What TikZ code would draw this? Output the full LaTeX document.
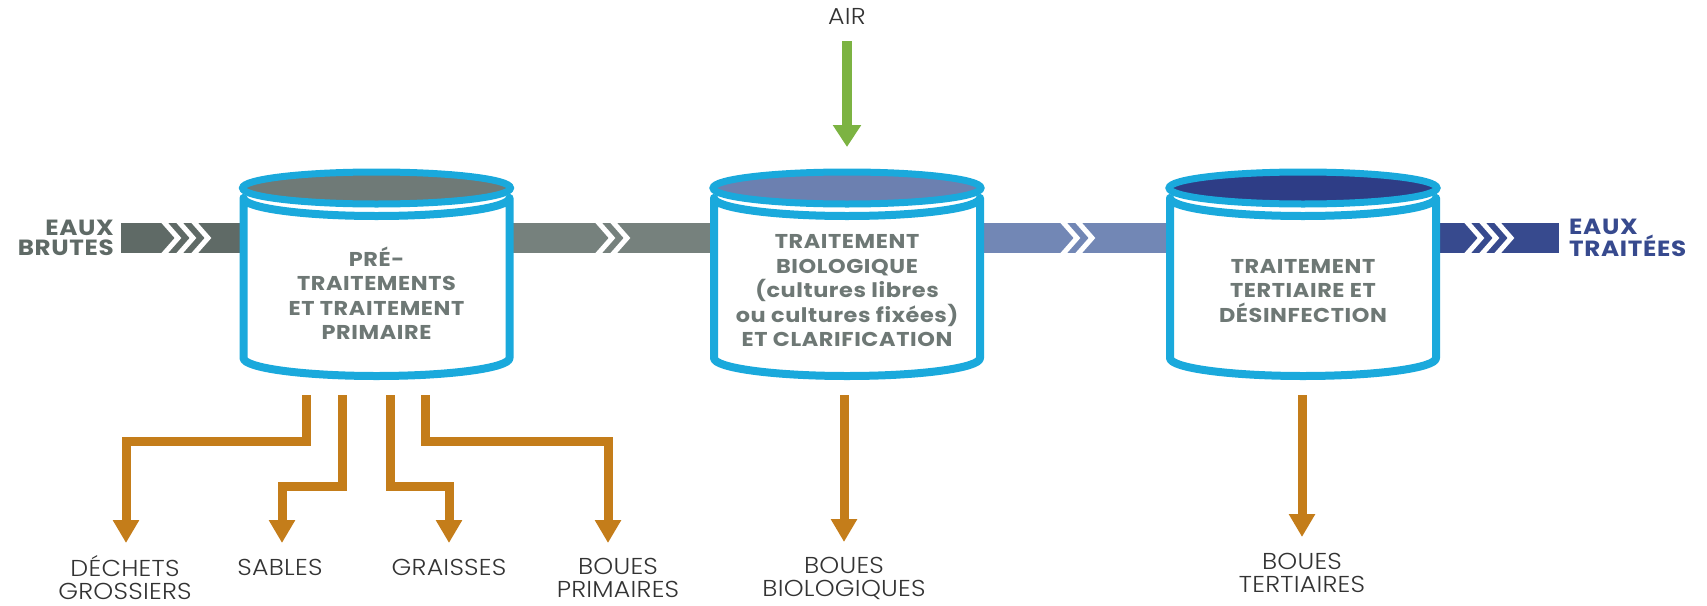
\documentclass[tikz,border=0pt]{standalone}
\usepackage{fontspec}
\setmainfont{Poppins}
\newfontfamily\widefont[FakeStretch=1.12, LetterSpace=3]{Poppins}
\newfontfamily\thinfont[FakeStretch=1.1, LetterSpace=1, UprightFont={* Light}]{Poppins}
\usetikzlibrary{arrows.meta}
\definecolor{bandA}{HTML}{5F6A66}
\definecolor{bandB}{HTML}{76817D}
\definecolor{bandC}{HTML}{7287B5}
\definecolor{bandD}{HTML}{374A8E}
\definecolor{tankone}{HTML}{6F7A77}
\definecolor{tanktwo}{HTML}{6C80B0}
\definecolor{tankthree}{HTML}{2E3D86}
\definecolor{tankcyan}{HTML}{1AA9DC}
\definecolor{tanktext}{HTML}{6E7875}
\definecolor{sludge}{HTML}{C47D1A}
\definecolor{airgreen}{HTML}{7CB342}
\definecolor{labeltext}{HTML}{333333}
\newcommand\drawtank[2]{%
  \draw[tankcyan, line width=8, fill=white, line join=round]
    (#1-133,198) arc[start angle=180, end angle=0, x radius=133, y radius=18]
    -- (#1+133,358) arc[start angle=0, end angle=180, x radius=133, y radius=18] -- cycle;
  \draw[tankcyan, line width=7, fill=#2] (#1,188) ellipse [x radius=134, y radius=16];
}
\newcommand\chev[1]{%
  \draw[white, line width=5] (#1,221) -- (#1+15,238) -- (#1,255);
}
\begin{document}
\begin{tikzpicture}[x=1pt, y=-1pt,
  tanklabel/.style={text=tanktext, align=center, inner sep=0pt,
    font=\widefont\fontsize{20}{24.5}\selectfont\bfseries},
  endlabel/.style={inner sep=0pt, font=\widefont\fontsize{22}{20}\selectfont\bfseries},
  outlabel/.style={text=labeltext, align=center, inner sep=0pt,
    font=\thinfont\fontsize{23}{23}\selectfont},
  sludgearrow/.style={sludge, line width=9, line join=miter,
    -{Triangle[width=25pt, length=23pt]}},
  airarrow/.style={airgreen, line width=10,
    -{Triangle[width=27pt, length=22pt]}}]
\useasboundingbox (0,0) rectangle (1707,605);
% bands
\fill[bandA] (121,223) rectangle (376,253);
\fill[bandB] (376,223) rectangle (847,253);
\fill[bandC] (847,223) rectangle (1303,253);
\fill[bandD] (1303,223) rectangle (1559,253);
\chev{163}\chev{178}\chev{193}
\chev{597}\chev{612}
\chev{1062}\chev{1077}
\chev{1466}\chev{1481}\chev{1496}
% tanks
\drawtank{376.5}{tankone}
\drawtank{847}{tanktwo}
\drawtank{1303}{tankthree}
\node[tanklabel] (t1) at (376.5,293) {PRÉ-\\TRAITEMENTS\\ET TRAITEMENT\\PRIMAIRE};
\node[tanklabel] (t2) at (847,291) {TRAITEMENT\\BIOLOGIQUE\\(cultures libres\\ou cultures fixées)\\ET CLARIFICATION};
\node[tanklabel] (t3) at (1303,291) {TRAITEMENT\\TERTIAIRE ET\\DÉSINFECTION};
% end labels
\node[endlabel, text=bandA, align=right, anchor=east] (in) at (114,238) {EAUX\\BRUTES};
\node[endlabel, text=bandD, align=left, anchor=west] (out) at (1569,238) {EAUX\\TRAITÉES};
% air
\node[outlabel] (air) at (847,16) {AIR};
\coordinate (airs) at (847,41);
\coordinate (aire) at (847,147);
\draw[airarrow] (airs) -- (aire);
% outputs
\node[outlabel] (dg) at (125,578) {DÉCHETS\\GROSSIERS};
\node[outlabel] (sa) at (280,567) {SABLES};
\node[outlabel] (gr) at (449,567) {GRAISSES};
\node[outlabel] (bp) at (618,578) {BOUES\\PRIMAIRES};
\node[outlabel] (bb) at (844,578) {BOUES\\BIOLOGIQUES};
\node[outlabel] (bt) at (1302,573) {BOUES\\TERTIAIRES};
\coordinate (s1) at (306,395);
\coordinate (s2) at (342,395);
\coordinate (s3) at (390,395);
\coordinate (s4) at (425,395);
\coordinate (s5) at (844,395);
\coordinate (s6) at (1302,395);
\draw[sludgearrow] (s1) -- (306,441) -- (126,441) -- (126,543);
\draw[sludgearrow] (s2) -- (342,486) -- (282,486) -- (282,543);
\draw[sludgearrow] (s3) -- (390,486) -- (449,486) -- (449,543);
\draw[sludgearrow] (s4) -- (425,441) -- (608,441) -- (608,543);
\draw[sludgearrow] (s5) -- (844,542);
\draw[sludgearrow] (s6) -- (1302,537);
\end{tikzpicture}
\end{document}
